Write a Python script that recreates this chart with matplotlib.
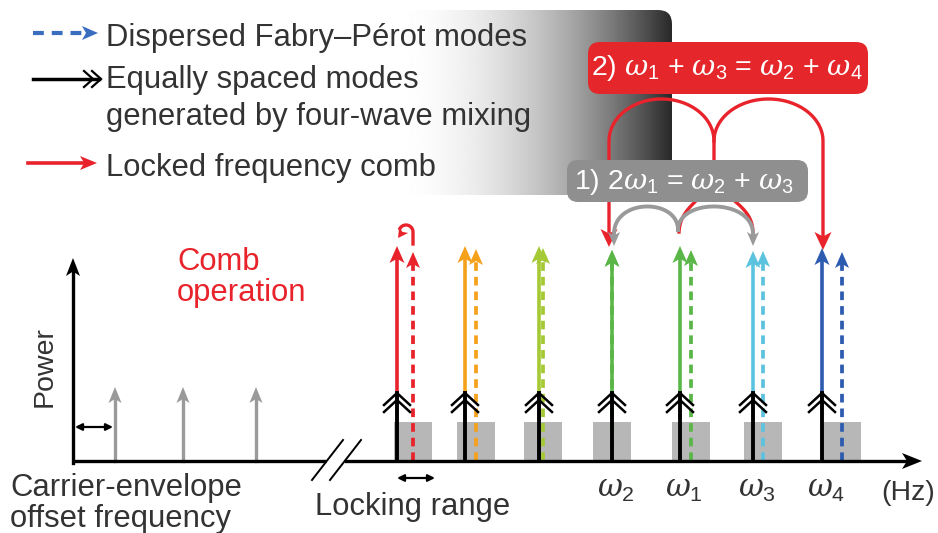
import numpy as np
import matplotlib.pyplot as plt
from matplotlib.patches import FancyBboxPatch, Rectangle, Polygon

plt.rcParams['font.family'] = ['Liberation Sans', 'DejaVu Sans']
plt.rcParams['mathtext.fontset'] = 'custom'
plt.rcParams['mathtext.rm'] = 'Liberation Sans'
plt.rcParams['mathtext.it'] = 'DejaVu Serif:italic'

# ---- data, in picture pixels (x right, y down) ----
comb_x = [397, 465, 539, 612, 680, 753, 822]        # equally spaced (FWM) modes
fp_shift = [16, 11, 4, 0, 11, 10, 20]               # shift of dispersed Fabry-Perot modes
mode_colors = ['#e8232b', '#f5a11c', '#a5c935', '#5ab646', '#5ab646', '#5cc3df', '#2d5bb0']
solid_top = [246, 246, 246, 250, 246, 251, 248]
dashed_top = [252, 249, 248, 250, 250, 251, 252]
omega_names = ['', '', '', r'$\mathit{\omega}_2$', r'$\mathit{\omega}_1$',
               r'$\mathit{\omega}_3$', r'$\mathit{\omega}_4$']
ceo_x = [115, 183, 256]                             # low frequency modes
ceo_top = 387

legend_texts = ['Dispersed Fabry\u2013P\u00e9rot modes', 'Equally spaced modes',
                'generated by four-wave mixing', 'Locked frequency comb']
legend_y = [38, 80, 117, 168]

eq2 = r'2) $\mathit{\omega}_1$ + $\mathit{\omega}_3$ = $\mathit{\omega}_2$ + $\mathit{\omega}_4$'
eq1 = r'1) 2$\mathit{\omega}_1$ = $\mathit{\omega}_2$ + $\mathit{\omega}_3$'

axis_y = 461
axis_x0 = 73
chevron_y = 393

TXT = '#333333'
RED = '#e8232b'
GREY = '#9a9a9a'
FS = 22.3

fig = plt.figure(figsize=(9.38, 5.33), dpi=100)
ax = fig.add_axes([0, 0, 1, 1])


def head(x, y, ang, color, L=16, W=14, z=5):
    # filled arrow head, tip at (x, y), pointing along ang (degrees, y down)
    d = np.array([np.cos(np.radians(ang)), np.sin(np.radians(ang))])
    n = np.array([-d[1], d[0]])
    tip = np.array([x, y])
    back = tip - d * L
    pts = [tip, back + n * W / 2, tip - d * L * 0.75, back - n * W / 2]
    ax.add_patch(Polygon(pts, closed=True, fc=color, ec='none', zorder=z))


def chevron_up(x, y, color='black', hw=13, h=12, z=4):
    ax.plot([x - hw, x, x + hw], [y + h, y, y + h], color=color, lw=1.8,
            solid_joinstyle='miter', zorder=z)


def bezier(p0, p1, p2, p3, n=60):
    t = np.linspace(0, 1, n)[:, None]
    p0, p1, p2, p3 = map(np.array, (p0, p1, p2, p3))
    pts = (1 - t) ** 3 * p0 + 3 * (1 - t) ** 2 * t * p1 + 3 * (1 - t) * t ** 2 * p2 + t ** 3 * p3
    return pts[:, 0], pts[:, 1]


def arc_top(x0, x1, ytop, ry, n=60):
    cx, rx = (x0 + x1) / 2, (x1 - x0) / 2
    t = np.linspace(np.pi, 0, n)
    return cx + rx * np.cos(t), ytop + ry - ry * np.sin(t)


# ---- grey gradient behind the legend ----
gx = np.linspace(380, 672, 400)
tt = np.clip((gx - 390) / (672 - 390), 0, 1)
vals = 1 - 0.84 * tt ** 2.0
im = ax.imshow(np.tile(vals, (2, 1)), cmap='gray', vmin=0, vmax=1,
               extent=[380, 672, 195, 10], aspect='auto', zorder=0,
               interpolation='bilinear')
clip = FancyBboxPatch((380, 10), 292, 185, boxstyle='round,pad=0,rounding_size=14',
                      fc='none', ec='none')
ax.add_patch(clip)
im.set_clip_path(clip)

# ---- legend ----
ax.plot([33, 82], [33, 33], color='#3a6cc0', lw=3, dashes=(2.6, 1.9), zorder=5)
head(98, 33, 0, '#3a6cc0', L=16, W=14)
ax.plot([33, 99], [79, 79], color='black', lw=2.5, zorder=5)
for xa in [93, 101]:
    ax.plot([xa - 9, xa, xa - 9], [71, 79, 87], color='black', lw=1.6,
            solid_joinstyle='miter', zorder=5)
ax.plot([28, 84], [163, 163], color=RED, lw=2.6, zorder=5)
head(97, 163, 0, RED, L=17, W=14)
for s, y in zip(legend_texts, legend_y):
    ax.text(106, y, s, fontsize=FS, color=TXT, va='center', ha='left', zorder=6)

# ---- coupling equations ----
ax.add_patch(FancyBboxPatch((588, 42), 280, 52, boxstyle='round,pad=0,rounding_size=12',
                            fc='#e5262b', ec='none', zorder=6))
ax.text(727, 68, eq2, fontsize=20.5, color='white', ha='center', va='center', zorder=7)
ax.add_patch(FancyBboxPatch((567, 160), 241, 42, boxstyle='round,pad=0,rounding_size=11',
                            fc='#8f8f8f', ec='none', zorder=6))
ax.text(684, 182, eq1, fontsize=20.5, color='white', ha='center', va='center', zorder=7)

# red lines: omega1 + omega3 -> omega2 + omega4
xs, ys = arc_top(comb_x[3] - 3, 714, 99, 42)
ax.plot(np.r_[comb_x[3] - 3, xs, 714], np.r_[236, ys, 175], color=RED, lw=2.4, zorder=3)
xs, ys = arc_top(714, comb_x[6] + 1, 99, 42)
ax.plot(np.r_[xs, comb_x[6] + 1], np.r_[ys, 236], color=RED, lw=2.4, zorder=3)
bx, by = bezier((714, 165), (714, 200), (comb_x[4] + 1, 200), (comb_x[4] - 1, 232))
ax.plot(bx, by, color=RED, lw=2.4, zorder=3)
bx, by = bezier((714, 165), (714, 200), (comb_x[5] - 1, 200), (comb_x[5], 232))
ax.plot(bx, by, color=RED, lw=2.4, zorder=3)
head(comb_x[3] - 3, 247, 90, RED, L=18, W=17, z=7)
head(comb_x[6] + 1, 250, 90, RED, L=18, W=17, z=7)

# grey lines: 2 omega1 -> omega2 + omega3
for xe in [comb_x[3] + 2, comb_x[5]]:
    bx, by = bezier((comb_x[4] - 2, 230), (comb_x[4] - 2, 198), (xe, 198), (xe, 234))
    ax.plot(bx, by, color=GREY, lw=2.8, zorder=7)
    head(xe, 246, 90, GREY, L=14, W=12, z=7)

# ---- axes ----
ax.plot([axis_x0, axis_x0], [axis_y + 1.5, 272], color='black', lw=2.4, zorder=8)
head(axis_x0, 258, -90, 'black', L=18, W=14, z=8)
ax.plot([axis_x0, 326], [axis_y, axis_y], color='black', lw=2.4, zorder=8,
        solid_capstyle='butt')
ax.plot([346, 905], [axis_y, axis_y], color='black', lw=2.4, zorder=8)
head(922, axis_y, 0, 'black', L=20, W=16, z=8)
for x0 in [312, 330]:
    ax.plot([x0, x0 + 31], [480, 440], color='black', lw=1.4, zorder=8)

# low-frequency modes and carrier-envelope offset
for x in ceo_x:
    ax.plot([x, x], [axis_y, ceo_top + 12], color=GREY, lw=2.4, zorder=2)
    head(x, ceo_top, -90, GREY, L=16, W=13, z=2)
ax.annotate('', xy=(axis_x0 + 2, 427), xytext=(113, 427),
            arrowprops=dict(arrowstyle='<|-|>', color='black', lw=1.6,
                            mutation_scale=10, shrinkA=0, shrinkB=0), zorder=8)

# ---- comb region ----
for i, x in enumerate(comb_x):
    c = mode_colors[i]
    xf = x + fp_shift[i]
    # locking range box around the Fabry-Perot mode
    ax.add_patch(Rectangle((xf - 19, 422), 38, axis_y - 422, fc='#b7b7b7', ec='none',
                           zorder=1))
    # dispersed Fabry-Perot mode (dashed)
    ax.plot([xf, xf], [axis_y, dashed_top[i] + 12], color=c, lw=2.7,
            dashes=(2.3, 1.6), zorder=2)
    head(xf, dashed_top[i], -90, c, L=16, W=14, z=2)
    # locked comb line
    ax.plot([x, x], [chevron_y + 2, solid_top[i] + 12], color=c, lw=2.6, zorder=3)
    head(x, solid_top[i], -90, c, L=17, W=15, z=3)
    # four-wave-mixing mode
    ax.plot([x, x], [axis_y, chevron_y], color='black', lw=2.8, zorder=4)
    chevron_up(x, chevron_y)
    chevron_up(x, chevron_y + 7)
    if omega_names[i]:
        ax.text(x + 4, 489, omega_names[i], fontsize=22, color=TXT,
                ha='center', va='center', zorder=8)

# comb operation hook on the first mode
hx = comb_x[0] + fp_shift[0]
t = np.linspace(0, np.radians(150), 30)
ax.plot(np.r_[hx, hx, hx - 7 + 7 * np.cos(t)], np.r_[dashed_top[0] - 8, 232, 232 - 7 * np.sin(t)],
        color=RED, lw=2.4, zorder=3)
head(hx - 15, 238, 125, RED, L=10, W=11, z=3)

ax.annotate('', xy=(comb_x[0], 478), xytext=(comb_x[0] + 38, 478),
            arrowprops=dict(arrowstyle='<|-|>', color='black', lw=1.6,
                            mutation_scale=10, shrinkA=0, shrinkB=0), zorder=8)

# ---- text ----
ax.text(45, 367, 'Power', rotation=90, fontsize=20.5, color=TXT, ha='center', va='center')
ax.text(177, 262, 'Comb', fontsize=FS, color=RED, ha='left', va='center')
ax.text(177, 293, 'operation', fontsize=FS, color=RED, ha='left', va='center')
ax.text(10, 488, 'Carrier-envelope', fontsize=FS, color=TXT, ha='left', va='center')
ax.text(10, 519, 'offset frequency', fontsize=FS, color=TXT, ha='left', va='center')
ax.text(315, 507, 'Locking range', fontsize=FS, color=TXT, ha='left', va='center')
ax.text(881, 493, '(Hz)', fontsize=20.5, color=TXT, ha='left', va='center')

ax.set_xlim(0, 938)
ax.set_ylim(533, 0)
ax.axis('off')
fig.savefig('out.png', dpi=100)
